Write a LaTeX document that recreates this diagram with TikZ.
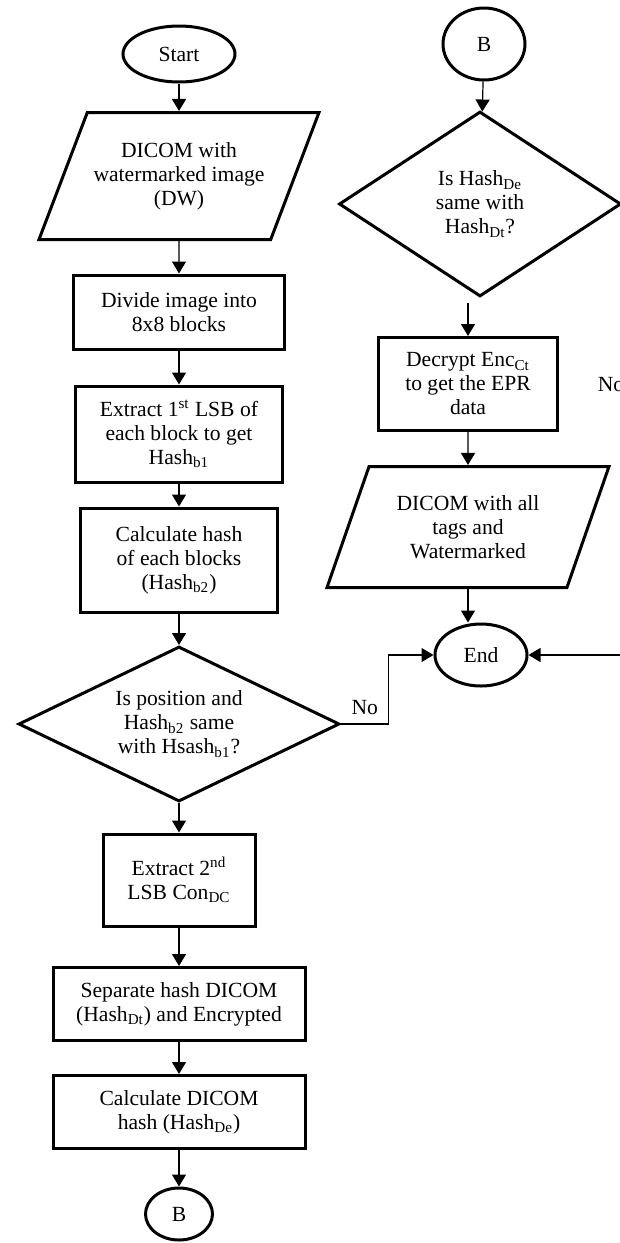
\documentclass[tikz,border=0pt]{standalone}
\usepackage{fontspec}
\setmainfont{Liberation Serif}
\usepackage{tikz}
\usetikzlibrary{positioning,calc,shapes.geometric,arrows.meta}

\begin{document}
\begin{tikzpicture}[node distance=60pt,on grid,line width=0.6pt,font=\fontsize{10.8}{12}\selectfont]
\tikzset{>={Triangle[length=6pt,width=7pt]}}
\tikzset{
  box/.style={draw,rectangle,align=center,inner sep=1pt},
  term/.style={draw,ellipse,inner sep=0pt},
  io/.style={draw,trapezium,trapezium left angle=#1,trapezium right angle=180-#1,
    trapezium stretches body,align=center,inner sep=1pt},
  ask/.style={draw,diamond,aspect=2,align=center,inner sep=0pt}
}
\useasboundingbox (0,0) rectangle (310pt,-621.5pt);
\begin{scope}[line width=1.5pt]
  \node[term,minimum width=56pt,minimum height=28pt] (start) at (89.5pt,-27pt) {Start};
  \node[io=56,minimum width=140pt,minimum height=63.5pt] (dw) [below=61pt of start]
       {DICOM with\\watermarked image\\(DW)};
  \node[box,minimum width=105.5pt,minimum height=37pt] (divide) [below=68pt of dw]
       {Divide image into\\8x8 blocks};
  \node[box,minimum width=103.5pt,minimum height=48pt] (ext1) [below=61pt of divide]
       {Extract 1\textsuperscript{st} LSB of\\each block to get\\Hash\textsubscript{b1}};
  \node[box,minimum width=98.5pt,minimum height=52pt] (calc) [below=63pt of ext1]
       {Calculate hash\\of each blocks\\(Hash\textsubscript{b2})};
  \node[ask,minimum width=160.5pt,minimum height=77.5pt] (q1) [below=82pt of calc]
       {Is position and\\Hash\textsubscript{b2} same\\with Hsash\textsubscript{b1}?};
  \node[box,minimum width=76pt,minimum height=46pt] (ext2) [below=78pt of q1]
       {Extract 2\textsuperscript{nd}\\LSB Con\textsubscript{DC}};
  \node[box,minimum width=126pt,minimum height=36.5pt] (sep) [below=62pt of ext2]
       {Separate hash DICOM\\(Hash\textsubscript{Dt}) and Encrypted};
  \node[box,minimum width=126pt,minimum height=36.5pt] (calcd) [below=54pt of sep]
       {Calculate DICOM\\hash (Hash\textsubscript{De})};
  \node[term,minimum width=33.5pt,minimum height=26pt] (bout) [below=51pt of calcd] {B};

  \node[term,minimum width=41pt,minimum height=36pt] (bin) [above right=5pt and 152.5pt of start] {B};
  \node[ask,aspect=1.5,minimum width=141pt,minimum height=92.5pt] (q2) [below=80pt of bin,xshift=-2pt]
       {Is Hash\textsubscript{De}\\same with\\Hash\textsubscript{Dt}?};
  \node[box,minimum width=89.5pt,minimum height=46.5pt] (dec) [below left=90pt and 6pt of q2]
       {Decrypt Enc\textsubscript{Ct}\\to get the EPR\\data};
  \node[io=58,minimum width=141pt,minimum height=60.5pt] (dw2) [below=71.5pt of dec]
       {DICOM with all\\tags and\\Watermarked};
  \node[term,minimum width=46pt,minimum height=31pt] (end) [below right=64pt and 6.5pt of dw2] {End};
\end{scope}
  \path[->] (start) edge (dw);
  \path[->] (dw) edge (divide);
  \path[->] (divide) edge (ext1);
  \path[->] (ext1) edge (calc);
  \path[->] (calc) edge (q1);
  \path[->] (q1) edge (ext2);
  \path[->] (ext2) edge (sep);
  \path[->] (sep) edge (calcd);
  \path[->] (calcd) edge (bout);
  \path[->] (bin) edge (q2);
  \path[->] ($(dec.north |- q2.south)+(0,-2.5pt)$) edge (dec);
  \path[->] (dec) edge (dw2);
  \path[->] (dw2.south) edge (dw2.south |- end.north);
  \draw[->] (q1.east) -- ++(23.75pt,0) node[above=1pt,midway] {No} |- (end.west);
  \draw[->] (q2.east) -- ++(4.5pt,0) |- node[left,pos=0.2] {No} (end.east);
\end{tikzpicture}
\end{document}
